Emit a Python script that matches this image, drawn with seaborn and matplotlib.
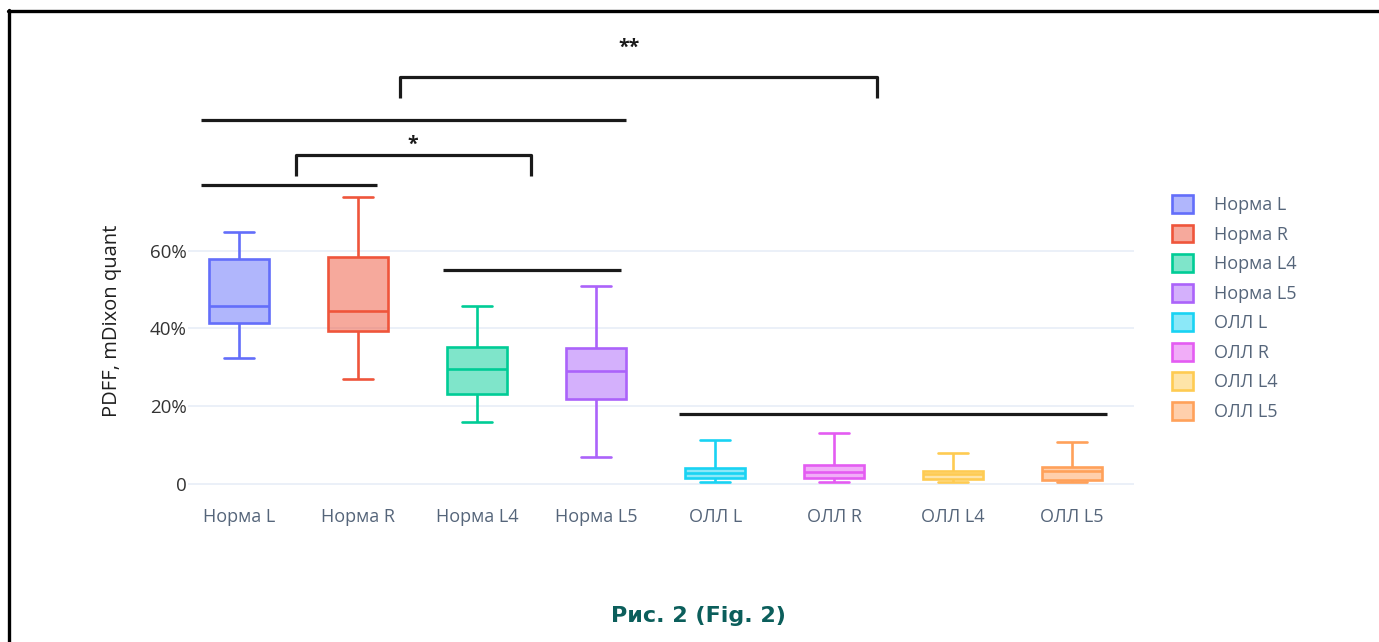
import matplotlib
matplotlib.use("Agg")
import numpy as np
import pandas as pd
import matplotlib.pyplot as plt
from matplotlib.colors import to_rgba
from matplotlib.patches import Patch
from matplotlib.lines import Line2D
import seaborn as sns

# Groups on the x axis
categories = ["Норма L", "Норма R", "Норма L4", "Норма L5",
              "ОЛЛ L", "ОЛЛ R", "ОЛЛ L4", "ОЛЛ L5"]

# PDFF (%) five-number summaries per group: min, Q1, median, Q3, max
norma_l = [32.3, 41.5, 45.8, 57.8, 64.9]
norma_r = [26.9, 39.4, 44.5, 58.3, 73.9]
norma_l4 = [16.0, 23.1, 29.5, 35.3, 45.8]
norma_l5 = [6.9, 21.9, 29.0, 35.0, 50.9]
oll_l = [0.4, 1.5, 2.9, 4.0, 11.4]
oll_r = [0.4, 1.5, 3.2, 5.0, 13.0]
oll_l4 = [0.6, 1.2, 2.5, 3.4, 7.9]
oll_l5 = [0.6, 1.0, 3.4, 4.5, 10.9]

group_values = [norma_l, norma_r, norma_l4, norma_l5, oll_l, oll_r, oll_l4, oll_l5]

y_ticks = [0, 20, 40, 60]
y_tick_labels = ["0", "20%", "40%", "60%"]

colors = ["#636EFA", "#EF553B", "#00CC96", "#AB63FA",
          "#19D3F3", "#E45CF2", "#FECB52", "#FFA15A"]

df = pd.DataFrame({
    "group": np.repeat(categories, [len(v) for v in group_values]),
    "value": np.concatenate(group_values),
})

sns.set_style("white")
plt.rcParams["font.family"] = ["Open Sans", "DejaVu Sans"]

W, H = 1379, 642
fig = plt.figure(figsize=(W / 100, H / 100), dpi=100)

# axes placement in pixels
ax_left, ax_right = 188, 1134
ax_bottom, ax_top = 491.8, 32.8
ax = fig.add_axes([ax_left / W, 1 - ax_bottom / H,
                   (ax_right - ax_left) / W, (ax_bottom - ax_top) / H])

for cat, col in zip(categories, colors):
    sub = df[df["group"] == cat]
    sns.boxplot(data=sub, x="group", y="value", order=categories,
                color=col, linecolor=col, linewidth=1.9, width=0.5,
                saturation=1, whis=(0, 100), fliersize=0, ax=ax)
    ax.patches[-1].set_facecolor(to_rgba(col, 0.5))
    ax.patches[-1].set_edgecolor(col)

ax.set_xlim(-0.43, 7.52)
ax.set_ylim(-2, 116)
ax.set_yticks(y_ticks)
ax.set_yticklabels(y_tick_labels)
ax.set_xlabel("")
ax.set_ylabel("")
for s in ax.spines.values():
    s.set_visible(False)
ax.grid(axis="y", color="#EBF0F8", linewidth=1.4)
ax.grid(axis="x", visible=False)
ax.set_axisbelow(True)
ax.tick_params(axis="x", length=0, pad=12, labelsize=13, labelcolor="#55657A")
ax.tick_params(axis="y", length=0, pad=1, labelsize=13.5, labelcolor="#333333")

# significance annotations (data coordinates)
line_kw = dict(color="#1a1a1a", linewidth=2.3, clip_on=False, solid_capstyle="butt")
# brackets: x0, x1, top y, tick bottom y
brackets = [(1.35, 5.36, 104.6, 99.2), (0.48, 2.45, 84.6, 79.2)]
for x0, x1, yt, yb in brackets:
    ax.plot([x0, x0, x1, x1], [yb, yt, yt, yb], **line_kw)
# plain bars: x0, x1, y
bars = [(-0.32, 3.25, 93.6), (-0.32, 1.16, 76.9), (1.71, 3.21, 55.0), (3.70, 7.29, 18.0)]
for x0, x1, y in bars:
    ax.plot([x0, x1], [y, y], **line_kw)
ax.text(3.28, 112.2, "**", ha="center", va="center", fontsize=14, fontweight="bold", color="#1a1a1a")
ax.text(1.46, 87.2, "*", ha="center", va="center", fontsize=14, fontweight="bold", color="#1a1a1a")

# y axis title
fig.text(112 / W, 1 - 321 / H, "PDFF, mDixon quant", rotation=90,
         ha="center", va="center", fontsize=14.5, color="#1f1f1f")

# legend
handles = [Patch(facecolor=to_rgba(c, 0.5), edgecolor=c, linewidth=1.9) for c in colors]
fig.legend(handles, categories, loc="upper left",
           bbox_to_anchor=(1172 / W, 1 - 195 / H), frameon=False,
           fontsize=13, handlelength=1.15, handleheight=1.15,
           handletextpad=1.15, labelspacing=0.58, borderpad=0, borderaxespad=0,
           labelcolor="#55657A")

# caption
fig.text(698 / W, 1 - 616 / H, "Рис. 2 (Fig. 2)", ha="center", va="center",
         fontsize=16, fontweight="bold", color="#0B5E5B",
         family=["DejaVu Sans"])

# frame
fig.add_artist(Line2D([8 / W, 1.0], [1 - 11 / H, 1 - 11 / H],
                      transform=fig.transFigure, color="black", linewidth=2.4))
fig.add_artist(Line2D([9 / W, 9 / W], [0.0, 1 - 10 / H],
                      transform=fig.transFigure, color="black", linewidth=2.4))

fig.savefig("out.png", dpi=100)
